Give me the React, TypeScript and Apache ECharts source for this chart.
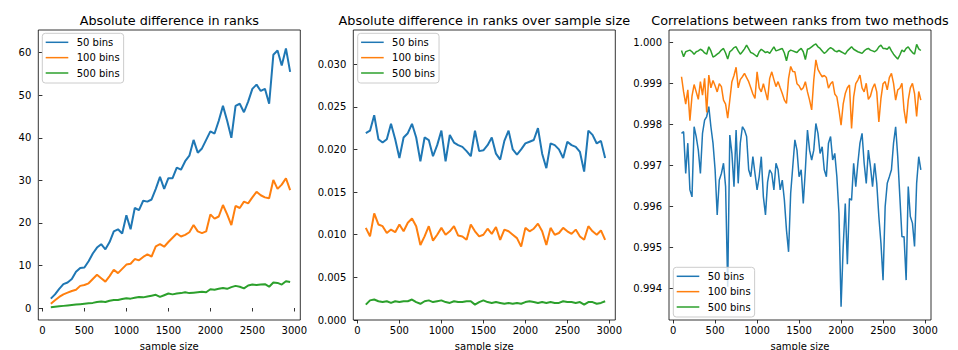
import React, { useEffect, useRef } from 'react';
import * as echarts from 'echarts';

const FONT = '"DejaVu Sans", sans-serif';
const COLORS = ['#1f77b4', '#ff7f0e', '#2ca02c'];
const seriesNames = ['50 bins', '100 bins', '500 bins'];
const titles = [
  'Absolute difference in ranks',
  'Absolute difference in ranks over sample size',
  'Correlations between ranks from two methods',
];
const xAxisName = 'sample size';
const xTicks = [0, 500, 1000, 1500, 2000, 2500, 3000];
const yTicks1 = [0, 10, 20, 30, 40, 50, 60];
const yTicks2 = [0, 0.005, 0.01, 0.015, 0.02, 0.025, 0.03];
const yTicks3 = [0.994, 0.995, 0.996, 0.997, 0.998, 0.999, 1.0];

// sample sizes for panels 1 and 2
const sizes50 = [100, 150, 200, 250, 300, 350, 400, 450, 500, 550, 600, 650, 700, 750, 800, 850, 900, 950, 1000,
  1050, 1100, 1150, 1200, 1250, 1300, 1350, 1400, 1450, 1500, 1550, 1600, 1650, 1700, 1750, 1800, 1850, 1900, 1950, 2000,
  2050, 2100, 2150, 2200, 2250, 2300, 2350, 2400, 2450, 2500, 2550, 2600, 2650, 2700, 2750, 2800, 2850, 2900, 2950];

// sample sizes for panel 3
const sizes25 = [100, 125, 150, 175, 200, 225, 250, 275, 300, 325, 350, 375, 400, 425, 450, 475, 500, 525, 550, 575,
  600, 625, 650, 675, 700, 725, 750, 775, 800, 825, 850, 875, 900, 925, 950, 975, 1000, 1025, 1050, 1075,
  1100, 1125, 1150, 1175, 1200, 1225, 1250, 1275, 1300, 1325, 1350, 1375, 1400, 1425, 1450, 1475, 1500, 1525, 1550, 1575,
  1600, 1625, 1650, 1675, 1700, 1725, 1750, 1775, 1800, 1825, 1850, 1875, 1900, 1925, 1950, 1975, 2000, 2025, 2050, 2075,
  2100, 2125, 2150, 2175, 2200, 2225, 2250, 2275, 2300, 2325, 2350, 2375, 2400, 2425, 2450, 2475, 2500, 2525, 2550, 2575,
  2600, 2625, 2650, 2675, 2700, 2725, 2750, 2775, 2800, 2825, 2850, 2875, 2900, 2925, 2950];

// Panel 1: absolute difference in ranks
const absDiff50 = [2.2, 3.2, 4.5, 5.6, 6.0, 6.8, 8.5, 9.4, 9.5, 11.0, 12.8, 14.2, 15.0, 13.8, 15.5, 18.0, 18.5, 17.5, 21.8,
  18.5, 23.5, 23.0, 25.2, 25.0, 25.5, 28.0, 30.8, 28.0, 30.5,
  30.5, 33.0, 32.5, 34.5, 35.8, 39.5, 36.5, 37.5, 39.5, 41.5,
  41.0, 44.0, 47.5, 44.0, 40.0, 47.5, 48.0, 46.0, 48.5, 51.5,
  52.5, 51.0, 51.5, 48.0, 59.5, 60.5, 57.0, 61.0, 55.5];
const absDiff100 = [1.0, 1.8, 2.6, 3.2, 3.6, 4.0, 4.3, 5.2, 5.4, 5.8, 6.8, 7.8, 7.0, 6.2, 7.5, 9.0, 8.2, 9.2, 10.2,
  10.4, 11.5, 11.2, 12.0, 12.6, 12.1, 14.5, 15.0, 14.4, 15.5,
  16.5, 17.5, 16.8, 17.2, 17.8, 19.5, 18.0, 17.6, 18.0, 22.0,
  21.0, 21.5, 24.2, 22.0, 19.5, 24.0, 23.5, 25.0, 24.6, 26.0,
  27.3, 26.5, 26.0, 25.8, 30.1, 28.0, 29.0, 30.5, 27.7];
const absDiff500 = [0.2, 0.3, 0.4, 0.5, 0.6, 0.7, 0.8, 0.9, 1.0, 1.1, 1.2, 1.4, 1.5, 1.4, 1.7, 1.9, 1.9, 2.1, 2.3,
  2.2, 2.4, 2.6, 2.5, 2.7, 2.9, 3.1, 2.6, 3.0, 3.4,
  3.2, 3.4, 3.5, 3.7, 3.5, 3.6, 3.7, 3.8, 3.7, 4.4,
  4.3, 4.5, 4.7, 4.5, 4.9, 5.2, 5.0, 4.6, 5.3, 5.5,
  5.4, 5.5, 5.6, 5.0, 6.0, 5.9, 5.5, 6.3, 6.1];

// Panel 2: absolute difference over sample size
const relDiff50 = [0.0219, 0.0222, 0.0240, 0.0212, 0.0208, 0.0212, 0.0230, 0.0212, 0.0190, 0.0214, 0.0219, 0.0230, 0.0214, 0.0186, 0.0214, 0.0211, 0.0192, 0.0205, 0.0222,
  0.0186, 0.0217, 0.0208, 0.0205, 0.0203, 0.0198, 0.0192, 0.0222, 0.0198, 0.0199,
  0.0205, 0.0214, 0.0195, 0.0188, 0.0210, 0.0222, 0.0200, 0.0194, 0.0200, 0.0207,
  0.0209, 0.0211, 0.0225, 0.0195, 0.0178, 0.0207, 0.0205, 0.0200, 0.0190, 0.0209,
  0.0205, 0.0203, 0.0197, 0.0174, 0.0222, 0.0217, 0.0207, 0.0210, 0.0190];
const relDiff100 = [0.0108, 0.0098, 0.0125, 0.0112, 0.0110, 0.0102, 0.0106, 0.0103, 0.0112, 0.0104, 0.0114, 0.0119, 0.0110, 0.0088, 0.0098, 0.0110, 0.0093, 0.0100, 0.0108,
  0.0100, 0.0104, 0.0110, 0.0099, 0.0098, 0.0094, 0.0112, 0.0104, 0.0098, 0.0100,
  0.0107, 0.0101, 0.0109, 0.0094, 0.0106, 0.0104, 0.0100, 0.0096, 0.0086, 0.0108,
  0.0104, 0.0107, 0.0113, 0.0104, 0.0088, 0.0108, 0.0100, 0.0102, 0.0108, 0.0104,
  0.0101, 0.0106, 0.0098, 0.0094, 0.0110, 0.0104, 0.0100, 0.0105, 0.0094];
const relDiff500 = [0.0018, 0.0023, 0.0024, 0.0022, 0.0021, 0.0022, 0.0020, 0.0022, 0.0021, 0.0022, 0.0022, 0.0024, 0.0021, 0.0019, 0.0022, 0.0023, 0.0021, 0.0022, 0.0023,
  0.0021, 0.0020, 0.0022, 0.0021, 0.0021, 0.0022, 0.0022, 0.0018, 0.0021, 0.0023,
  0.0021, 0.0020, 0.0021, 0.0020, 0.0019, 0.0020, 0.0019, 0.0020, 0.0019, 0.0021,
  0.0022, 0.0021, 0.0020, 0.0021, 0.0020, 0.0021, 0.0020, 0.0020, 0.0022, 0.0021,
  0.0021, 0.0020, 0.0021, 0.0018, 0.0021, 0.0021, 0.0019, 0.0020, 0.0022];

// Panel 3: correlations
const corr50 = [0.99779, 0.99783, 0.99681, 0.99755, 0.99641, 0.99624, 0.99795, 0.99771, 0.99738, 0.99681,
  0.99779, 0.99811, 0.99820, 0.99844, 0.99795, 0.99755, 0.99690, 0.99580, 0.99665, 0.99681,
  0.99706, 0.99649, 0.99405, 0.99775, 0.99730, 0.99649, 0.99787, 0.99657, 0.99755, 0.99795,
  0.99787, 0.99771, 0.99690, 0.99673, 0.99722, 0.99681, 0.99641, 0.99673, 0.99722, 0.99624,
  0.99580, 0.99660, 0.99690, 0.99681, 0.99641, 0.99706, 0.99690, 0.99641, 0.99665, 0.99616,
  0.99543, 0.99490, 0.99633, 0.99698, 0.99763, 0.99738, 0.99673, 0.99690, 0.99608, 0.99690,
  0.99787, 0.99738, 0.99714, 0.99738, 0.99803, 0.99779, 0.99730, 0.99746, 0.99690, 0.99673,
  0.99755, 0.99771, 0.99714, 0.99730, 0.99673, 0.99584, 0.99356, 0.99500, 0.99608, 0.99460,
  0.99620, 0.99616, 0.99706, 0.99649, 0.99706, 0.99755, 0.99779, 0.99706, 0.99657, 0.99738,
  0.99698, 0.99649, 0.99706, 0.99657, 0.99576, 0.99511, 0.99421, 0.99600, 0.99657, 0.99673,
  0.99690, 0.99755, 0.99795, 0.99722, 0.99624, 0.99527, 0.99527, 0.99421, 0.99649, 0.99576,
  0.99560, 0.99503, 0.99657, 0.99722, 0.99690];
const corr100 = [0.99917, 0.99880, 0.99850, 0.99885, 0.99810, 0.99870, 0.99898, 0.99880, 0.99862, 0.99905,
  0.99872, 0.99913, 0.99830, 0.99921, 0.99890, 0.99908, 0.99895, 0.99880, 0.99900, 0.99893,
  0.99860, 0.99850, 0.99816, 0.99860, 0.99905, 0.99920, 0.99940, 0.99890, 0.99910, 0.99917,
  0.99925, 0.99915, 0.99905, 0.99890, 0.99875, 0.99864, 0.99929, 0.99890, 0.99880, 0.99900,
  0.99880, 0.99860, 0.99913, 0.99929, 0.99910, 0.99893, 0.99905, 0.99890, 0.99876, 0.99860,
  0.99852, 0.99913, 0.99942, 0.99930, 0.99929, 0.99900, 0.99895, 0.99885, 0.99890, 0.99905,
  0.99880, 0.99860, 0.99836, 0.99909, 0.99958, 0.99935, 0.99925, 0.99917, 0.99920, 0.99915,
  0.99889, 0.99900, 0.99905, 0.99875, 0.99868, 0.99836, 0.99799, 0.99850, 0.99876, 0.99890,
  0.99897, 0.99791, 0.99868, 0.99900, 0.99909, 0.99921, 0.99890, 0.99880, 0.99901, 0.99862,
  0.99870, 0.99889, 0.99900, 0.99880, 0.99807, 0.99864, 0.99900, 0.99905, 0.99885, 0.99915,
  0.99925, 0.99901, 0.99860, 0.99885, 0.99889, 0.99901, 0.99836, 0.99803, 0.99860, 0.99890,
  0.99901, 0.99876, 0.99820, 0.99881, 0.99860];
const corr500 = [0.99981, 0.99966, 0.99978, 0.99980, 0.99982, 0.99978, 0.99972, 0.99978, 0.99980, 0.99984,
  0.99981, 0.99975, 0.99972, 0.99990, 0.99980, 0.99965, 0.99968, 0.99972, 0.99976, 0.99982,
  0.99986, 0.99975, 0.99960, 0.99978, 0.99982, 0.99988, 0.99990, 0.99980, 0.99972, 0.99978,
  0.99985, 0.99994, 0.99985, 0.99976, 0.99974, 0.99970, 0.99966, 0.99978, 0.99984, 0.99980,
  0.99976, 0.99978, 0.99974, 0.99982, 0.99990, 0.99980, 0.99982, 0.99984, 0.99986, 0.99975,
  0.99956, 0.99978, 0.99982, 0.99980, 0.99978, 0.99976, 0.99982, 0.99986, 0.99978, 0.99959,
  0.99984, 0.99986, 0.99990, 0.99994, 0.99997, 0.99990, 0.99986, 0.99980, 0.99974, 0.99978,
  0.99984, 0.99988, 0.99985, 0.99980, 0.99978, 0.99981, 0.99978, 0.99975, 0.99972, 0.99980,
  0.99985, 0.99990, 0.99984, 0.99981, 0.99978, 0.99976, 0.99974, 0.99980, 0.99984, 0.99986,
  0.99982, 0.99980, 0.99978, 0.99982, 0.99990, 0.99994, 0.99986, 0.99986, 0.99984, 0.99990,
  0.99980, 0.99972, 0.99966, 0.99960, 0.99970, 0.99982, 0.99978, 0.99986, 0.99990, 0.99982,
  0.99976, 0.99972, 0.99996, 0.99985, 0.99981];

const panels = [
  { xs: sizes50, ys: [absDiff50, absDiff100, absDiff500], yMin: -2.82, yMax: 65.33, yTicks: yTicks1, fmt: (v: number) => String(Math.round(v)), lw: 2 },
  { xs: sizes50, ys: [relDiff50, relDiff100, relDiff500], yMin: 0, yMax: 0.034, yTicks: yTicks2, fmt: (v: number) => v.toFixed(3), lw: 2 },
  { xs: sizes25, ys: [corr50, corr100, corr500], yMin: 0.993237, yMax: 1.00031, yTicks: yTicks3, fmt: (v: number) => v.toFixed(3), lw: 1.5 },
];

const gridLayout = [
  { left: 38.3, top: 30, width: 262, height: 290 },
  { left: 353.3, top: 30, width: 262, height: 290 },
  { left: 669, top: 30, width: 262, height: 290 },
];
const legendPos = [
  { left: 42.3, top: 33.3 },
  { left: 357.7, top: 33.3 },
  { left: 673.3, top: 267.3 },
];

export default function App() {
  const ref = useRef<HTMLDivElement>(null);
  useEffect(() => {
    if (!ref.current) return;
    const chart = echarts.init(ref.current, undefined, { renderer: 'svg' });
    const textBase = { fontFamily: FONT, fontSize: 10, color: '#000' };
    const option: any = {
      animation: false,
      backgroundColor: '#fff',
      grid: gridLayout.map((g) => ({
        ...g, show: true, borderColor: '#000', borderWidth: 0.8, backgroundColor: 'transparent',
        containLabel: false, outerBoundsMode: 'none',
      })),
      xAxis: panels.map((p, i) => ({
        type: 'value', gridIndex: i, min: -49, max: 3071,
        name: xAxisName, nameLocation: 'middle', nameGap: 21,
        nameTextStyle: { ...textBase },
        axisLine: { show: false },
        axisTick: { show: true, length: 3.5, customValues: xTicks, lineStyle: { color: '#000', width: 0.8 } },
        axisLabel: { show: true, customValues: xTicks, margin: 5, formatter: (v: number) => String(v), ...textBase },
        splitLine: { show: false },
      })),
      yAxis: panels.map((p, i) => ({
        type: 'value', gridIndex: i, min: p.yMin, max: p.yMax,
        axisLine: { show: false },
        axisTick: { show: true, length: 3.5, customValues: p.yTicks, lineStyle: { color: '#000', width: 0.8 } },
        axisLabel: { show: true, customValues: p.yTicks, margin: 7, formatter: p.fmt, ...textBase },
        splitLine: { show: false },
      })),
      legend: legendPos.map((lp) => ({
        ...lp, orient: 'vertical', selectedMode: false,
        data: seriesNames.map((n) => ({ name: n, icon: 'rect' })),
        itemWidth: 22.6, itemHeight: 1.5, itemGap: 3.35,
        padding: [3, 4, 4, 3.4],
        backgroundColor: 'rgba(255,255,255,0.8)', borderColor: '#cccccc', borderWidth: 1, borderRadius: 3,
        textStyle: { ...textBase, lineHeight: 12, padding: [0, 0, 0, 3.4] },
      })),
      graphic: titles.map((t, i) => ({
        type: 'text',
        x: gridLayout[i].left + gridLayout[i].width / 2,
        y: 20,
        style: { text: t, font: `12.8px ${FONT}`, fill: '#000', textAlign: 'center', textVerticalAlign: 'middle', align: 'center', verticalAlign: 'middle' },
      })),
      series: panels.flatMap((p, i) => p.ys.map((vals, k) => ({
        type: 'line', name: seriesNames[k], xAxisIndex: i, yAxisIndex: i,
        data: p.xs.map((x, j) => [x, vals[j]]),
        showSymbol: false, symbol: 'none', silent: true,
        lineStyle: { color: COLORS[k], width: p.lw },
        itemStyle: { color: COLORS[k] },
      }))),
    };
    chart.setOption(option);
    return () => chart.dispose();
  }, []);
  return <div ref={ref} style={{ position: 'absolute', left: 0, top: 0, width: 958, height: 350 }} />;
}
